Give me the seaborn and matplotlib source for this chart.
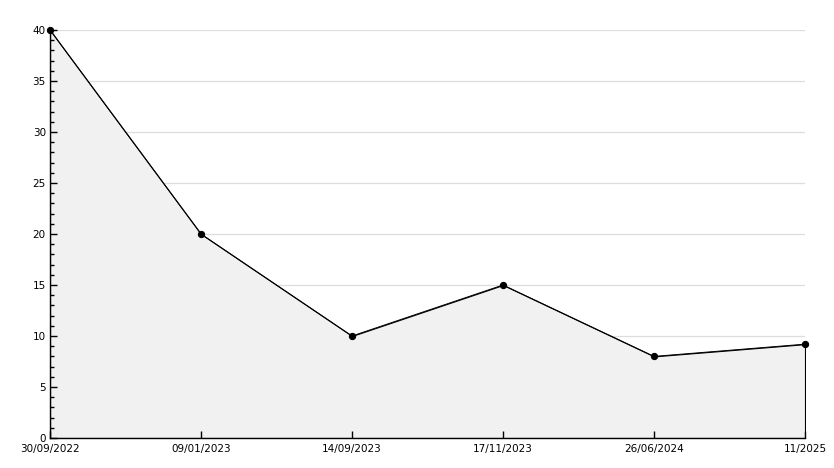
import numpy as np
import pandas as pd
import matplotlib
matplotlib.use("Agg")
import matplotlib.pyplot as plt
import seaborn as sns
from matplotlib.ticker import MultipleLocator

# Data
dates = ["30/09/2022", "09/01/2023", "14/09/2023", "17/11/2023", "26/06/2024", "11/2025"]
values = [40, 20, 10, 15, 8, 9.2]

df = pd.DataFrame({"pos": np.arange(len(dates)), "value": values})

sns.set_style("white")
plt.rcParams["font.family"] = ["DejaVu Sans"]

fig = plt.figure(figsize=(8.34, 4.68), dpi=100)
ax = fig.add_axes([50 / 834, 30 / 468, 755 / 834, 408 / 468])

# Shaded area under the line
ax.fill_between(df["pos"], df["value"], 0, facecolor="#f1f1f1",
                edgecolor="black", linewidth=0.8, zorder=1)

sns.lineplot(data=df, x="pos", y="value", ax=ax, color="black", linewidth=0.7,
             marker="o", markersize=4.5, markeredgecolor="black", zorder=3,
             clip_on=False)

ax.set_xlim(0, len(dates) - 1)
ax.set_ylim(0, 40)
ax.set_xticks(df["pos"])
ax.set_xticklabels(dates)
ax.yaxis.set_major_locator(MultipleLocator(5))
ax.yaxis.set_minor_locator(MultipleLocator(1))

# gridlines behind the filled area, ticks stay on top
ax.grid(False)
ax.set_axisbelow(False)
for yv in ax.get_yticks():
    if 0 < yv <= 40:
        ax.axhline(yv, color="#dddddd", linewidth=0.9, zorder=0.5)

for side in ["top", "right"]:
    ax.spines[side].set_visible(False)
for side in ["left", "bottom"]:
    ax.spines[side].set_color("black")
    ax.spines[side].set_linewidth(1)

ax.tick_params(axis="both", which="both", left=True, bottom=True)
ax.tick_params(axis="both", which="major", direction="in", length=5, width=1,
               color="black", labelcolor="black", labelsize=7.5, pad=3)
ax.tick_params(axis="y", which="minor", direction="in", length=3, width=1,
               color="black")
ax.tick_params(axis="x", which="minor", bottom=False)
ax.tick_params(axis="x", which="major", pad=4)
ax.set_xlabel("")
ax.set_ylabel("")

fig.savefig("out.png", dpi=100)
